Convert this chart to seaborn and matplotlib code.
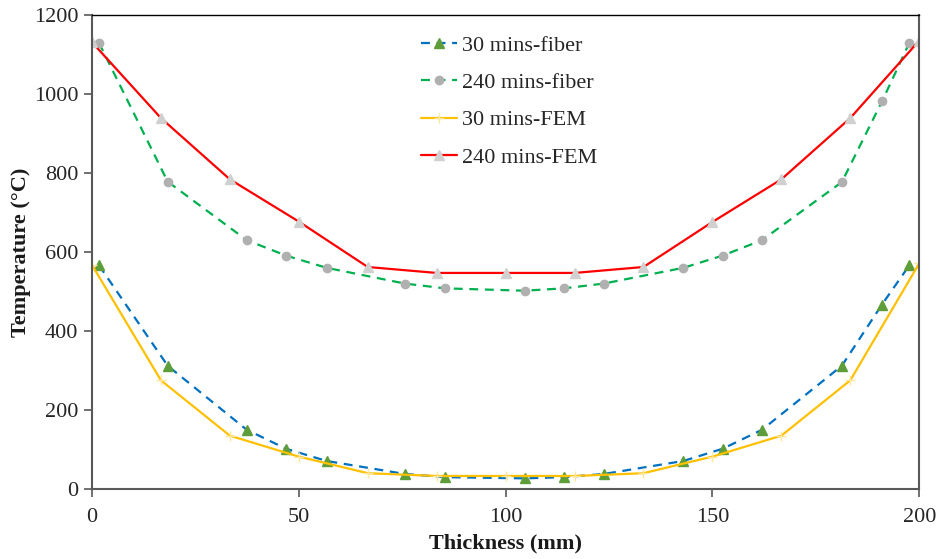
import matplotlib
matplotlib.use("Agg")
import matplotlib.pyplot as plt
import numpy as np
import pandas as pd
import seaborn as sns

# Fiber measurements (thickness in mm, temperature in degC)
fiber_x = [1.7, 18.3, 37.4, 46.9, 56.7, 75.7, 85.3, 104.6, 114.1, 123.7,
           143.0, 152.5, 162.0, 181.3, 191.0, 197.6]
fiber_30 = [566, 312, 150, 102, 71, 38, 30, 27, 30, 38, 71, 102, 150, 312, 467, 566]
fiber_240 = [1129, 778, 630, 591, 560, 520, 508, 502, 508, 520, 560, 591, 630, 777, 981, 1129]

# FEM results
fem_x = [0, 16.67, 33.33, 50, 66.67, 83.33, 100, 116.67, 133.33, 150, 166.67, 183.33, 200]
fem_30 = [567, 275, 135, 82, 40, 33, 33, 33, 40, 82, 135, 275, 571]
fem_240 = [1131, 939, 784, 677, 562, 547, 547, 547, 562, 676, 784, 939, 1135]

sns.set_style("white")
plt.rcParams["font.family"] = ["Liberation Serif", "DejaVu Serif"]

fig = plt.figure(figsize=(9.37, 5.59), dpi=100)
ax = fig.add_axes([0.0982, 0.1252, 0.8828, 0.848])

series = [
    ("30 mins-fiber", fiber_x, fiber_30, "#0070C0", "--", "^", "#5E9E3A", 7),
    ("240 mins-fiber", fiber_x, fiber_240, "#00B050", "--", "o", "#B0B0B0", 6),
    ("30 mins-FEM", fem_x, fem_30, "#FFC000", "-", "+", "#FFE699", 7),
    ("240 mins-FEM", fem_x, fem_240, "#FF0000", "-", "^", "#D0D0D0", 7),
]

for label, xs, ys, col, ls, mk, mcol, ms in series:
    df = pd.DataFrame({"Thickness": xs, "Temperature": ys})
    sns.lineplot(data=df, x="Thickness", y="Temperature", ax=ax, color=col,
                 linestyle=ls, linewidth=1.6, marker=mk, markersize=ms,
                 markerfacecolor=mcol, markeredgecolor=mcol, markeredgewidth=1,
                 label=label)
    if ls == "--":
        ax.lines[-1].set_dashes([4, 3])

ax.set_xlim(0, 200)
ax.set_ylim(0, 1200)
ax.set_xticks([0, 50, 100, 150, 200])
ax.set_yticks(np.arange(0, 1201, 200))

ax.set_xlabel("Thickness (mm)", fontsize=16, fontweight="bold", color="#1a1a1a", labelpad=4)
ax.set_ylabel("Temperature (°C)", fontsize=16, fontweight="bold", color="#1a1a1a", labelpad=2)
ax.tick_params(axis="both", labelsize=16, colors="#595959", labelcolor="#262626",
               direction="out", length=6, width=1.2, left=True, bottom=True)
ax.tick_params(axis="x", pad=8)
ax.tick_params(axis="y", pad=4)

for side in ["left", "bottom", "right"]:
    ax.spines[side].set_color("#595959")
    ax.spines[side].set_linewidth(1.5)
ax.spines["top"].set_color("#000000")
ax.spines["top"].set_linewidth(1.0)

leg = ax.legend(loc="upper left", bbox_to_anchor=(0.373, 1.0), frameon=False,
                fontsize=16, handlelength=1.65, handletextpad=0.2, labelspacing=0.76)
for t in leg.get_texts():
    t.set_color("#262626")

fig.savefig("out.png", dpi=100)
